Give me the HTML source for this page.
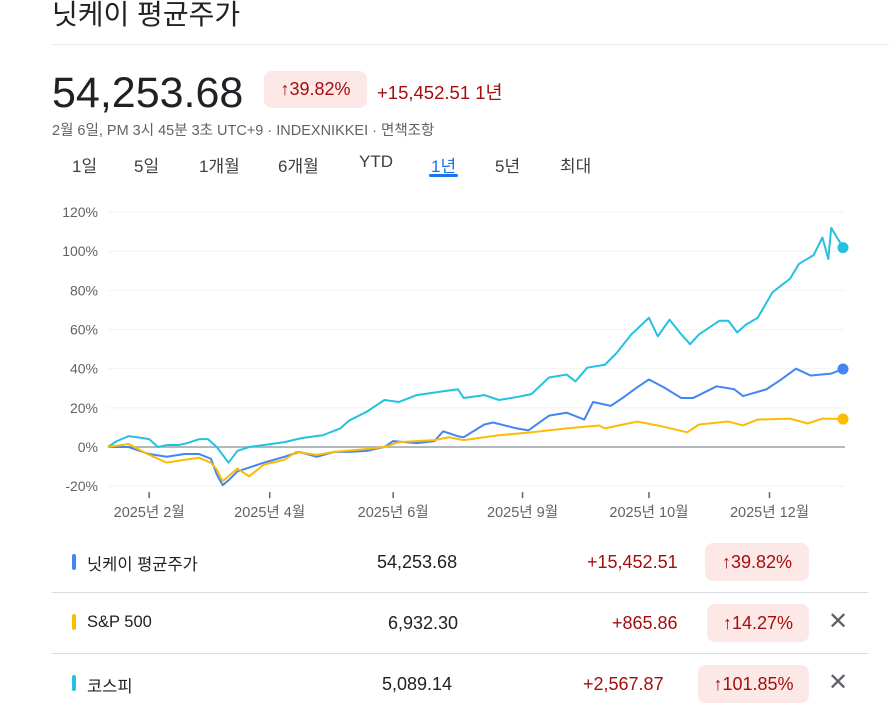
<!DOCTYPE html>
<html><head><meta charset="utf-8">
<style>
body{margin:0;width:889px;height:707px;overflow:hidden;background:#fff;font-family:"Liberation Sans","Noto Sans CJK KR",sans-serif;color:#202124;position:relative}
.a{position:absolute;white-space:nowrap}
.tab{position:absolute;top:152px;font-size:17px;color:#3c4043}
.row{position:absolute;left:52px;width:816px;height:60px}
.bar{position:absolute;left:20px;width:4px;height:16px;border-radius:2px}
.nm{position:absolute;left:35px;font-size:16.5px;color:#202124}
.val{position:absolute;font-size:18px;color:#202124}
.chg{position:absolute;font-size:18px;color:#a50e0e}
.bd{position:absolute;height:38px;border-radius:8px;background:#fce8e6;color:#a50e0e;font-size:18px;line-height:38px;text-align:center}
.x{position:absolute;left:776px;font-size:24px;color:#5f6368}
</style></head><body>
<div class="a" style="left:52px;top:-7px;font-size:28px;color:#202124">닛케이 평균주가</div>
<div class="a" style="left:52px;top:44px;width:837px;height:1px;background:#e8eaed"></div>
<div class="a" style="left:52px;top:69px;font-size:43px;color:#202124">54,253.68</div>
<div class="a" style="left:264px;top:71px;width:103px;height:37px;border-radius:8px;background:#fce8e6;color:#a50e0e;font-size:18px;line-height:37px;text-align:center">↑39.82%</div>
<div class="a" style="left:377px;top:79px;font-size:18.5px;color:#a50e0e">+15,452.51 1년</div>
<div class="a" style="left:52px;top:119px;font-size:14.5px;color:#5f6368">2월 6일, PM 3시 45분 3초 UTC+9 · INDEXNIKKEI · 면책조항</div>
<div class="tab" style="left:72px">1일</div>
<div class="tab" style="left:134px">5일</div>
<div class="tab" style="left:199px">1개월</div>
<div class="tab" style="left:278px">6개월</div>
<div class="tab" style="left:359px">YTD</div>
<div class="tab" style="left:431px;color:#1a73e8">1년</div>
<div class="a" style="left:429px;top:174px;width:29px;height:3px;border-radius:2px;background:#1a73e8"></div>
<div class="tab" style="left:495px">5년</div>
<div class="tab" style="left:560px">최대</div>

<svg id="chart" class="a" style="left:0;top:190px" width="889" height="340"></svg>

<div class="row" style="top:532px;border-bottom:1px solid #dadce0">
<div class="bar" style="top:22px;background:#4285f4"></div>
<div class="nm" style="top:19px">닛케이 평균주가</div>
<div class="val" style="left:325px;top:20px">54,253.68</div>
<div class="chg" style="left:535px;top:20px">+15,452.51</div>
<div class="bd" style="left:653px;top:11px;width:104px">↑39.82%</div>
</div>
<div class="row" style="top:593px;border-bottom:1px solid #dadce0">
<div class="bar" style="top:21px;background:#fbbc04"></div>
<div class="nm" style="top:20px">S&amp;P 500</div>
<div class="val" style="left:336px;top:20px">6,932.30</div>
<div class="chg" style="left:560px;top:20px">+865.86</div>
<div class="bd" style="left:655px;top:11px;width:102px">↑14.27%</div>
<div class="x" style="top:14px">✕</div>
</div>
<div class="row" style="top:654px">
<div class="bar" style="top:21px;background:#24c1e0"></div>
<div class="nm" style="top:19px">코스피</div>
<div class="val" style="left:330px;top:20px">5,089.14</div>
<div class="chg" style="left:531px;top:20px">+2,567.87</div>
<div class="bd" style="left:646px;top:11px;width:111px">↑101.85%</div>
<div class="x" style="top:14px">✕</div>
</div>

<script>
const yTicks=[-20,0,20,40,60,80,100,120];
const xTickDays=[14,55,97,141,184,225];
const xTickLabels=["2025년 2월","2025년 4월","2025년 6월","2025년 9월","2025년 10월","2025년 12월"];
const kospiDays=[0,3,7,10,14,17,20,24,27,31,34,37,41,44,48,60,66,73,79,82,88,94,99,105,112,119,121,128,133,139,144,150,156,159,163,169,173,178,184,187,191,195,198,201,208,211,214,217,221,226,232,235,240,243,245,246,250];
const kospiVals=[0,3,5.5,5,4,0,1,1,2,4,4,0,-8,-2,0,2.5,4.6,6,9.5,13.5,18,24,23,26.5,28,29.5,25,26.5,24,25.5,27,35.5,37,33.5,40.5,42,48,57.5,66,56.5,65,57.5,52.5,57.5,64.5,64.5,58.5,62.5,66,79,86,93.5,98,107,96,112,101.85];
const nikkeiDays=[0,7,14,20,26,31,35,37,39,41,44,48,53,60,65,71,77,82,88,94,97,105,111,114,119,121,128,131,139,143,150,156,162,165,171,175,180,184,189,195,199,207,213,216,224,229,234,239,246,250];
const nikkeiVals=[0,0,-3.6,-5,-3.6,-3.6,-6,-14,-19.5,-17,-12.5,-10.5,-8,-5,-2.5,-5,-2.5,-2.5,-2,0,3,2,3,8,5.5,5,11.5,12.5,9.5,8.5,16,17.5,14,23,21,25,30.5,34.5,30.5,25,25,31,29.5,26,29.5,34.5,40,36.5,37.5,39.82];
const spDays=[0,7,14,20,26,31,35,37,39,44,48,53,60,64,71,77,88,94,99,111,116,121,133,144,156,167,169,180,187,197,201,211,216,221,232,238,243,250];
const spVals=[0,1.5,-4,-8,-6.5,-5.5,-8,-11.5,-17.5,-11,-15,-9,-6.5,-2.5,-4,-2.5,-1,0,2.5,3.5,5,3.5,6,7.5,9.5,11,9.5,13,11,7.5,11.5,13,11,14,14.5,12,14.5,14.27];

const svg=document.getElementById('chart');const NS='http://www.w3.org/2000/svg';
const X=d=>108+d*(735/250);
const Y=v=>257-v*1.958;
function mk(t,a){const e=document.createElementNS(NS,t);for(const k in a)e.setAttribute(k,a[k]);svg.appendChild(e);return e;}
yTicks.forEach(v=>{
  const l=mk('line',{x1:108,x2:845,y1:Y(v),y2:Y(v),stroke:v===0?'#9aa0a6':'#f1f3f4','stroke-width':v===0?1.5:1});
  
  
  const t=mk('text',{x:98,y:Y(v)+5,'text-anchor':'end','font-size':14,fill:'#5f6368'});
  t.textContent=v+'%';
  
  
});
xTickDays.forEach((d,i)=>{
  const l=mk('line',{x1:X(d),x2:X(d),y1:Y(-20)+6,y2:Y(-20)+12,stroke:'#5f6368','stroke-width':1.5});
  
  
  const t=mk('text',{x:X(d),y:Y(-20)+31,'text-anchor':'middle','font-size':14.5,fill:'#5f6368'});
  t.textContent=xTickLabels[i];
  
  
});
function series(days,vals,color,name){
  const p=mk('polyline',{points:days.map((d,i)=>X(d)+','+Y(vals[i])).join(' '),fill:'none',stroke:color,'stroke-width':2,'stroke-linejoin':'round'});
  
  
  const n=days.length-1;
  const c=mk('circle',{cx:X(days[n]),cy:Y(vals[n]),r:5.5,fill:color});
  
  
}
series(kospiDays,kospiVals,'#24c1e0','kospi');
series(nikkeiDays,nikkeiVals,'#4285f4','nikkei');
series(spDays,spVals,'#fbbc04','sp500');
</script>
</body></html>
